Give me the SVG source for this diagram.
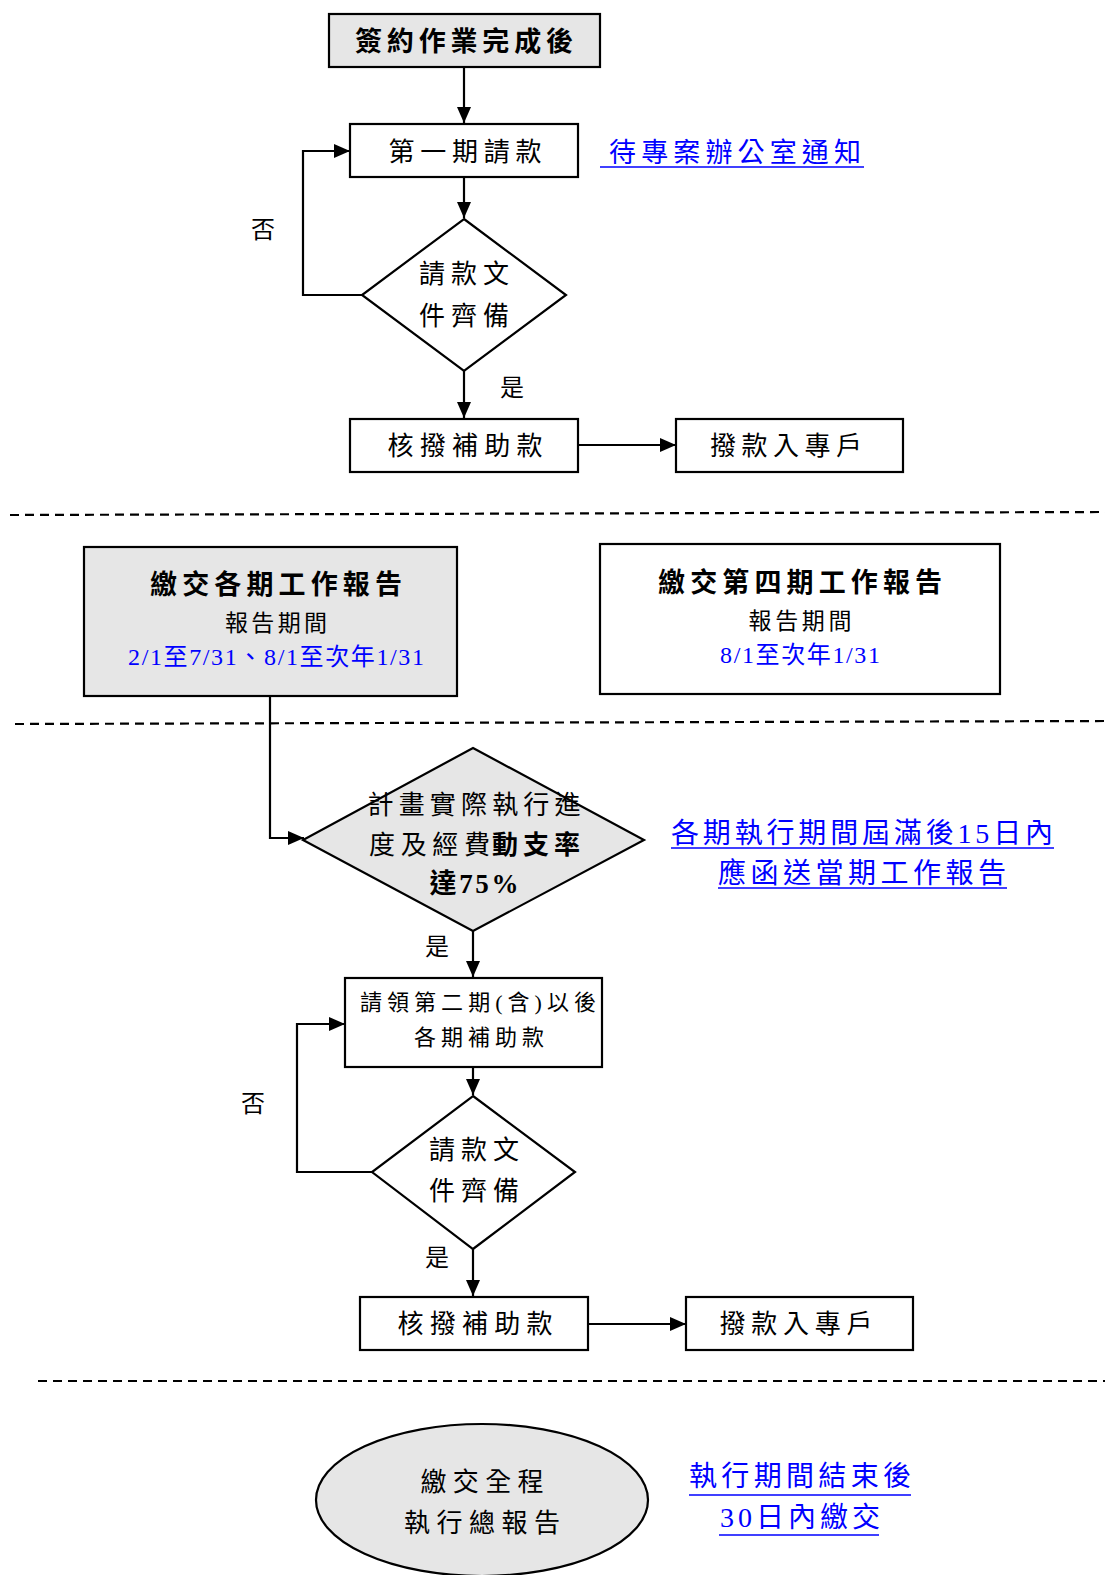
<svg xmlns="http://www.w3.org/2000/svg" width="1105" height="1575" viewBox="0 0 1105 1575">
<style>
.box{fill:#fff;stroke:#000;stroke-width:2.2}
.gray{fill:#e6e6e6}
.t{font-family:"Liberation Serif","Noto Sans CJK TC",serif;fill:#000;text-anchor:middle}
.b{font-weight:bold}
.blue{fill:#0000ff}
.ul{stroke:#0000ff;stroke-width:1.6}
.con{fill:none;stroke:#000;stroke-width:2.2}
.dash{fill:none;stroke:#000;stroke-width:2.2;stroke-dasharray:9 6}
</style>
<defs>
<marker id="ah" viewBox="0 0 16 14" refX="16" refY="7" markerWidth="16" markerHeight="14" orient="auto" markerUnits="userSpaceOnUse">
<path d="M0,0 L16,7 L0,14 z" fill="#000"/>
</marker>
</defs>
<g id="connectors">
<line class="con" x1="464" y1="67" x2="464" y2="123" marker-end="url(#ah)"/>
<line class="con" x1="464" y1="177" x2="464" y2="218" marker-end="url(#ah)"/>
<polyline class="con" points="362,295 303,295 303,151 350,151" marker-end="url(#ah)"/>
<line class="con" x1="464" y1="370" x2="464" y2="418" marker-end="url(#ah)"/>
<line class="con" x1="578" y1="445" x2="676" y2="445" marker-end="url(#ah)"/>
<polyline class="con" points="270,695 270,838 304,838" marker-end="url(#ah)"/>
<line class="con" x1="473" y1="931" x2="473" y2="977" marker-end="url(#ah)"/>
<line class="con" x1="473" y1="1067" x2="473" y2="1095" marker-end="url(#ah)"/>
<polyline class="con" points="372,1172 297,1172 297,1024 345,1024" marker-end="url(#ah)"/>
<line class="con" x1="473" y1="1249" x2="473" y2="1296" marker-end="url(#ah)"/>
<line class="con" x1="588" y1="1324" x2="686" y2="1324" marker-end="url(#ah)"/>
</g>
<g id="separators">
<line class="dash" x1="10" y1="515" x2="1105" y2="512"/>
<line class="dash" x1="15" y1="724" x2="1105" y2="721"/>
<line class="dash" x1="38" y1="1381" x2="1105" y2="1381"/>
</g>
<g id="n-start">
<rect class="box gray" x="329" y="14" width="271" height="53"/>
<text class="t b" x="464" y="51" font-size="27" textLength="218" lengthAdjust="spacing">簽約作業完成後</text>
</g>
<g id="n-first">
<rect class="box" x="350" y="124" width="228" height="53"/>
<text class="t" x="465" y="161" font-size="26" textLength="153" lengthAdjust="spacing">第一期請款</text>
</g>
<g id="note-1">
<text class="t blue" x="735" y="162" font-size="27" textLength="252" lengthAdjust="spacing">待專案辦公室通知</text>
<line class="ul" x1="600" y1="167" x2="864" y2="167"/>
</g>
<g id="n-check1">
<polygon class="box" points="464,219 566,295 464,371 362,295"/>
<text class="t" x="464" y="283" font-size="26" textLength="90" lengthAdjust="spacing">請款文</text>
<text class="t" x="464" y="325" font-size="26" textLength="90" lengthAdjust="spacing">件齊備</text>
</g>
<g id="lbl-no1"><text class="t" x="263" y="238" font-size="24">否</text></g>
<g id="lbl-yes1"><text class="t" x="512" y="396" font-size="24">是</text></g>
<g id="n-approve1">
<rect class="box" x="350" y="419" width="228" height="53"/>
<text class="t" x="465" y="455" font-size="26" textLength="155" lengthAdjust="spacing">核撥補助款</text>
</g>
<g id="n-account1">
<rect class="box" x="676" y="419" width="227" height="53"/>
<text class="t" x="786" y="455" font-size="26" textLength="152" lengthAdjust="spacing">撥款入專戶</text>
</g>
<g id="n-report">
<rect class="box gray" x="84" y="547" width="373" height="149"/>
<text class="t b" x="276" y="594" font-size="27" textLength="252" lengthAdjust="spacing">繳交各期工作報告</text>
<text class="t" x="276" y="631" font-size="23" textLength="102" lengthAdjust="spacing">報告期間</text>
<text class="t blue" x="276" y="665" font-size="24" textLength="296" lengthAdjust="spacing">2/1至7/31、8/1至次年1/31</text>
</g>
<g id="n-report4">
<rect class="box" x="600" y="544" width="400" height="150"/>
<text class="t b" x="800" y="592" font-size="27" textLength="284" lengthAdjust="spacing">繳交第四期工作報告</text>
<text class="t" x="800" y="629" font-size="23" textLength="103" lengthAdjust="spacing">報告期間</text>
<text class="t blue" x="800" y="663" font-size="24" textLength="160" lengthAdjust="spacing">8/1至次年1/31</text>
</g>
<g id="n-rate">
<polygon class="box gray" points="473,748 644,840 473,931 303,840"/>
<text class="t" x="474" y="814" font-size="26" textLength="213" lengthAdjust="spacing">計畫實際執行進</text>
<text x="369" y="854" font-size="26" font-family="Liberation Serif,Noto Sans CJK TC,serif" textLength="121" lengthAdjust="spacing">度及經費</text>
<text x="492" y="854" font-size="26" font-weight="bold" font-family="Liberation Serif,Noto Sans CJK TC,serif" textLength="88" lengthAdjust="spacing">動支率</text>
<text class="t b" x="474" y="893" font-size="27" textLength="89" lengthAdjust="spacing">達75%</text>
</g>
<g id="note-2">
<text class="t blue" x="862" y="843" font-size="28" textLength="382" lengthAdjust="spacing">各期執行期間屆滿後15日內</text>
<line class="ul" x1="671" y1="848" x2="1054" y2="848"/>
<text class="t blue" x="862" y="883" font-size="28" textLength="288" lengthAdjust="spacing">應函送當期工作報告</text>
<line class="ul" x1="718" y1="888" x2="1007" y2="888"/>
</g>
<g id="lbl-yes2"><text class="t" x="437" y="955" font-size="24">是</text></g>
<g id="n-second">
<rect class="box" x="345" y="978" width="257" height="89"/>
<text class="t" x="478" y="1010" font-size="22" textLength="236" lengthAdjust="spacing">請領第二期(含)以後</text>
<text class="t" x="479" y="1045" font-size="22" textLength="130" lengthAdjust="spacing">各期補助款</text>
</g>
<g id="n-check2">
<polygon class="box" points="473,1096 575,1172 473,1249 372,1172"/>
<text class="t" x="474" y="1159" font-size="26" textLength="90" lengthAdjust="spacing">請款文</text>
<text class="t" x="474" y="1200" font-size="26" textLength="90" lengthAdjust="spacing">件齊備</text>
</g>
<g id="lbl-no2"><text class="t" x="253" y="1112" font-size="24">否</text></g>
<g id="lbl-yes2b"><text class="t" x="437" y="1266" font-size="24">是</text></g>
<g id="n-approve2">
<rect class="box" x="360" y="1297" width="228" height="53"/>
<text class="t" x="475" y="1333" font-size="26" textLength="155" lengthAdjust="spacing">核撥補助款</text>
</g>
<g id="n-account2">
<rect class="box" x="686" y="1297" width="227" height="53"/>
<text class="t" x="796" y="1333" font-size="26" textLength="153" lengthAdjust="spacing">撥款入專戶</text>
</g>
<g id="n-final">
<ellipse class="box gray" cx="482" cy="1500" rx="166" ry="76"/>
<text class="t" x="482" y="1491" font-size="26" textLength="123" lengthAdjust="spacing">繳交全程</text>
<text class="t" x="482" y="1532" font-size="26" textLength="156" lengthAdjust="spacing">執行總報告</text>
</g>
<g id="note-3">
<text class="t blue" x="800" y="1486" font-size="28" textLength="222" lengthAdjust="spacing">執行期間結束後</text>
<line class="ul" x1="689" y1="1495" x2="911" y2="1495"/>
<text class="t blue" x="800" y="1527" font-size="28" textLength="160" lengthAdjust="spacing">30日內繳交</text>
<line class="ul" x1="719" y1="1535" x2="879" y2="1535"/>
</g>
</svg>
